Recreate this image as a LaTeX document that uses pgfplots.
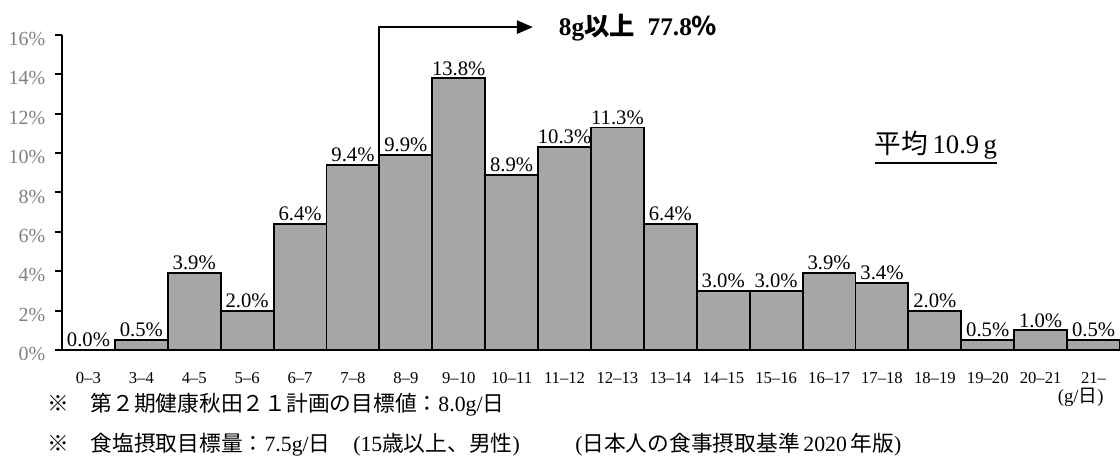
\documentclass[border=0pt]{standalone}
\usepackage{pgfplots}
\pgfplotsset{compat=1.18}
\usepackage{fontspec}
\setmainfont{Liberation Serif}
\newfontfamily\jp{Noto Sans CJK JP}
\usetikzlibrary{arrows.meta}
\definecolor{barfill}{HTML}{A6A6A6}
\definecolor{tickgray}{HTML}{808080}
\begin{document}
\begin{tikzpicture}
\begin{axis}[
  scale only axis,
  width=793.5pt, height=236.25pt,
  xmin=-0.5, xmax=19.5,
  ymin=0, ymax=16,
  clip=false,
  axis x line=bottom, axis y line=left,
  axis line style={-, line width=1.5pt, black},
  ybar, bar width=1,
  xtick={0,...,19},
  xticklabels={0--3,3--4,4--5,5--6,6--7,7--8,8--9,9--10,10--11,11--12,12--13,13--14,14--15,15--16,16--17,17--18,18--19,19--20,20--21,21--},
  xtick style={draw=none},
  xticklabel style={font=\fontsize{12.5}{12.5}\selectfont, yshift=-8pt},
  ytick={0,2,...,16},
  ytick style={line width=1.5pt, black},
  major tick length=5pt,
  tick align=outside,
  yticklabel={\pgfmathprintnumber{\tick}\%},
  yticklabel style={font=\fontsize{15}{15}\selectfont, text=tickgray, xshift=-4pt, yshift=-3pt},
  /pgf/number format/assume math mode=true,
  nodes near coords={\pgfmathprintnumber[fixed,fixed zerofill,precision=1]{\pgfplotspointmeta}\%},
  every node near coord/.append style={font=\fontsize{15.5}{15.5}\selectfont, black, inner sep=1.5pt},
]
\addplot[fill=barfill, draw=black, line width=1.4pt] coordinates {
(0,0.0) (1,0.5) (2,3.9) (3,2.0) (4,6.4) (5,9.4) (6,9.9) (7,13.8) (8,8.9) (9,10.3)
(10,11.3) (11,6.4) (12,3.0) (13,3.0) (14,3.9) (15,3.4) (16,2.0) (17,0.5) (18,1.0) (19,0.5)};
\draw[line width=1.4pt, -{Triangle[length=12pt,width=10pt]}] (axis cs:5.5,7.87) -- (axis cs:5.5,16.4) -- (axis cs:8.4,16.4);
\node[font=\fontsize{19}{19}\selectfont\bfseries, anchor=center] at (axis cs:10.39,16.4) {8g{\jp 以上}\ \ 77.8{\jp ％}};
\node[font=\fontsize{20}{20}\selectfont, anchor=center, inner sep=0pt] (avg) at (axis cs:16.02,10.41) {{\jp 平均}\,10.9\,g};
\draw[line width=1.4pt] ([yshift=-2.5pt]avg.south west) -- ([yshift=-2.5pt]avg.south east);
\end{axis}
\node[font=\fontsize{14}{14}\selectfont] at (764pt,-35.25pt) {(g/{\jp 日})};
\node[font=\fontsize{16.3}{16.3}\selectfont, anchor=west, inner sep=0pt] at (-11.25pt,-41.25pt) {{\jp ※\quad 第２期健康秋田２１計画の目標値：}8.0g/{\jp 日}};
\node[font=\fontsize{16.3}{16.3}\selectfont, anchor=west, inner sep=0pt] at (-11.25pt,-71.25pt) {{\jp ※\quad 食塩摂取目標量：}7.5g/{\jp 日}};
\node[font=\fontsize{16.3}{16.3}\selectfont, anchor=west, inner sep=0pt] at (218.25pt,-71.25pt) {(15{\jp 歳以上、男性})};
\node[font=\fontsize{16.3}{16.3}\selectfont, anchor=west, inner sep=0pt] at (384.75pt,-71.25pt) {({\jp 日本人の食事摂取基準}\,2020\,{\jp 年版})};
\pgfresetboundingbox
\path (-46.5pt,-85.5pt) rectangle (793.5pt,262.5pt);
\end{tikzpicture}
\end{document}
